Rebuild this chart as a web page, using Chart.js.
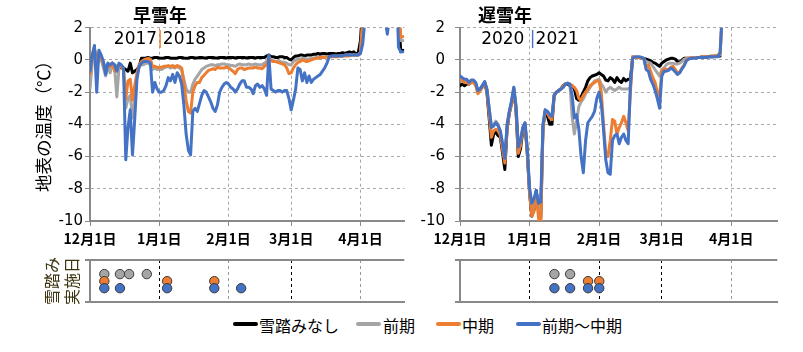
<!DOCTYPE html>
<html><head><meta charset="utf-8">
<script src="https://cdn.jsdelivr.net/npm/chart.js@4/dist/chart.umd.min.js"></script>
<style>
html,body{margin:0;padding:0;background:#fff;}
body{width:803px;height:352px;position:relative;overflow:hidden;font-family:"Noto Sans CJK JP","Noto Sans",sans-serif;color:#000;}
canvas{position:absolute;}
.t{position:absolute;white-space:nowrap;line-height:1;}
.sw{position:absolute;height:4px;width:25px;border-radius:2px;}
</style></head><body>
<canvas id="cL" width="410" height="252" style="left:0;top:0"></canvas>
<canvas id="cR" width="393" height="252" style="left:410px;top:0"></canvas>
<canvas id="dL" width="410" height="58" style="left:0;top:250px"></canvas>
<canvas id="dR" width="393" height="58" style="left:410px;top:250px"></canvas>

<div class="t" style="left:160px;top:14px;transform:translate(-50%,-50%);font-weight:bold;font-size:18px">早雪年</div>
<div class="t" style="left:505px;top:14px;transform:translate(-50%,-50%);font-weight:bold;font-size:18px">遅雪年</div>
<div class="t" style="left:160px;top:38px;transform:translate(-50%,-50%);font-family:'DejaVu Sans';font-size:17px">2017<span style="color:#ED7D31">|</span>2018</div>
<div class="t" style="left:530px;top:38px;transform:translate(-50%,-50%);font-family:'DejaVu Sans';font-size:17px">2020 <span style="color:#4472C4">|</span>2021</div>
<div class="t" style="left:43px;top:122px;transform:translate(-50%,-50%) rotate(-90deg);font-size:17.5px">地表の温度（℃）</div>
<div class="t" style="left:61px;top:281px;transform:translate(-50%,-50%) rotate(-90deg);font-size:16px;line-height:20px;text-align:center;color:#3d3510">雪踏み<br>実施日</div>

<div id="legend"></div>

<script>
// x values are days counted from 12月1日
const monthTicks = [0, 31, 62, 90, 121];
const monthLabels = ['12月1日', '1月1日', '2月1日', '3月1日', '4月1日'];
const seriesNames = ['雪踏みなし', '前期', '中期', '前期～中期'];
const seriesColors = ['#000000', '#A5A5A5', '#ED7D31', '#4472C4'];

// 早雪年 2017|2018 daily ground-surface temperature (°C), day 0 = Dec 1
const leftNone = [-0.9,0.2,0.7,-0.5,0.4,0.1,-0.2,-0.7,-0.3,-0.4,
-0.2,-0.4,-0.4,-0.4,-0.5,-0.5,-0.6,-0.7,-0.2,-0.8,
-0.7,-0.6,-0.4,0.1,0.1,0.12,0.15,0.1,0.12,0.15,
0.15,0.12,0.1,0.12,0.15,0.15,0.12,0.1,0.1,0.12,
0.15,0.15,0.12,0.1,0.12,0.15,0.15,0.12,0.12,0.15,
0.15,0.12,0.12,0.15,0.15,0.15,0.12,0.12,0.15,0.15,
0.15,0.12,0.15,0.15,0.15,0.12,0.15,0.15,0.15,0.15,
0.12,0.15,0.15,0.15,0.12,0.15,0.15,0.15,0.15,0.25,
0.3,0.2,0.2,0.15,0.15,0.2,0.2,0.15,0.15,0.05,
0.0,0.15,0.25,0.25,0.3,0.3,0.25,0.3,0.3,0.3,
0.35,0.35,0.4,0.35,0.4,0.4,0.35,0.4,0.4,0.4,
0.35,0.4,0.4,0.45,0.4,0.45,0.5,0.45,0.5,0.35,
0.45,1.2,3.5,5,5,5,5,5,5,5,
5,5,5,5,5,5,5,5,3,0.5,
0.6];
const leftEarly = [-1.8,-0.2,0.6,-0.8,0.4,0.0,-0.5,-1.0,-0.4,-0.8,
-0.3,-0.5,-2.3,-0.4,-0.4,-0.6,-3.0,-2.4,-2.2,-3.6,
-2.5,-1.0,-0.4,-0.3,-0.3,-0.2,-0.2,-0.3,-0.6,-0.5,
-0.6,-0.55,-0.6,-0.5,-0.45,-0.4,-0.5,-0.45,-0.5,-0.4,
-0.5,-0.6,-1.2,-1.8,-2.0,-2.0,-1.5,-1.2,-1.0,-0.8,
-0.6,-0.5,-0.4,-0.35,-0.3,-0.3,-0.35,-0.3,-0.3,-0.25,
-0.25,-0.3,-0.3,-0.35,-0.35,-0.4,-0.3,-0.25,-0.3,-0.3,
-0.3,-0.25,-0.3,-0.3,-0.25,-0.3,-0.3,-0.3,-0.2,-0.1,
0.2,0.0,-0.05,-0.1,-0.1,-0.1,-0.15,-0.15,-0.2,-0.3,
-0.3,-0.1,0.0,0.05,0.05,0.1,0.1,0.05,0.05,0.1,
0.1,0.15,0.15,0.15,0.2,0.2,0.2,0.2,0.2,0.25,
0.25,0.25,0.25,0.25,0.3,0.3,0.3,0.3,0.3,0.3,
0.3,0.5,2.5,5,5,5,5,5,5,5,
5,5,5,5,5,5,5,5,4,1.2,
1.2];
const leftMid = [-0.9,0.2,0.7,-0.6,0.5,0.1,-0.2,-0.7,-0.3,-0.4,
-0.2,-0.7,-0.4,-0.3,-0.4,-0.6,-2.4,-1.3,-1.2,-2.5,
-1.6,-0.8,-0.3,-0.1,0.0,0.05,0.1,0.05,-0.4,-0.4,
-0.45,-0.5,-0.45,-0.4,-0.4,-0.35,-0.4,-0.35,-0.45,-0.35,
-0.4,-0.5,-1.5,-2.5,-3.2,-3.3,-2.0,-1.6,-1.4,-1.4,
-1.1,-0.95,-0.8,-0.65,-0.6,-0.55,-0.6,-0.45,-0.5,-0.5,
-0.5,-0.45,-0.5,-0.6,-0.7,-0.85,-0.6,-0.5,-0.5,-0.6,
-0.55,-0.5,-0.5,-0.5,-0.45,-0.5,-0.5,-0.55,-0.4,-0.3,
0.1,-0.05,-0.1,-0.1,-0.15,-0.2,-0.25,-0.3,-0.5,-0.85,
-0.8,-0.5,-0.3,-0.15,-0.1,0.0,-0.05,-0.1,-0.05,0.0,
0.05,0.1,0.1,0.15,0.15,0.15,0.2,0.2,0.2,0.2,
0.2,0.2,0.25,0.25,0.25,0.25,0.25,0.3,0.3,0.3,
0.3,0.4,2.3,5,5,5,5,5,5,5,
5,5,5,5,5,5,5,5,4,1.4,
1.45];
const leftBoth = [-0.7,0.3,0.9,-2.0,0.6,0.3,-0.1,-0.9,-0.2,-0.3,
-0.2,-0.3,-0.7,-0.2,-0.3,-0.5,-6.2,-4.2,-3.1,-5.9,
-3.7,-1.2,-0.4,-0.2,-0.1,-0.1,-0.1,-0.2,-2.0,-1.4,
-1.8,-2.0,-2.0,-1.9,-1.6,-1.1,-1.3,-0.9,-1.4,-0.8,
-1.0,-1.5,-2.8,-4.6,-5.6,-5.9,-3.2,-3.0,-3.2,-2.7,
-2.2,-1.9,-2.0,-2.3,-2.6,-3.0,-3.2,-2.8,-2.0,-1.7,
-1.5,-1.4,-1.5,-1.7,-1.8,-2.0,-1.8,-1.5,-1.3,-1.3,
-1.7,-1.7,-1.8,-2.1,-1.6,-1.5,-1.7,-1.6,-1.8,-2.2,
0.3,-1.8,-1.9,-2.0,-1.9,-1.9,-2.0,-1.9,-1.9,-2.4,
-3.1,-2.5,-1.8,-0.5,-0.6,-1.3,-0.8,-1.4,-1.0,-1.4,
-1.2,-1.1,-1.0,-0.9,-0.7,-0.5,-0.2,0.2,0.25,0.25,
0.25,0.25,0.25,0.25,0.3,0.3,0.3,0.3,0.3,0.3,
0.3,0.4,1.0,2.5,5,5,5,5,5,5,
5,5,2.6,1.6,2.6,5,5,5,0.8,0.5,
0.5];

// 遅雪年 2020|2021, day 0 = Dec 1
const rightNone = [-1.6,-1.5,-1.6,-1.5,-1.5,-1.4,-1.35,-1.5,-2.0,-1.8,
-1.6,-1.4,-2.0,-3.6,-5.3,-4.6,-4.5,-4.7,-4.8,-5.8,
-6.8,-4.3,-3.3,-2.7,-1.8,-3.2,-6.0,-5.5,-4.4,-4.0,
-5.8,-8.2,-9.7,-9.3,-8.1,-9.3,-9.8,-4.2,-3.2,-3.5,
-4.0,-4.0,-2.2,-2.0,-1.9,-1.8,-1.6,-1.5,-1.5,-1.6,
-1.6,-1.8,-2.4,-2.5,-2.3,-2.0,-1.7,-1.3,-1.1,-1.0,
-0.95,-0.9,-0.8,-0.9,-1.0,-1.25,-1.3,-1.1,-1.2,-1.4,
-1.1,-1.3,-1.4,-1.15,-1.3,-1.2,-1.2,0.15,0.15,0.15,
0.15,0.1,0.1,0.05,0.0,-0.05,-0.15,-0.2,-0.3,-0.4,
-0.2,-0.1,0.0,0.05,0.1,0.1,0.05,-0.1,-0.15,0.0,
0.1,0.1,0.1,0.1,0.15,0.15,0.15,0.15,0.2,0.2,
0.2,0.2,0.2,0.2,0.25,0.25,0.25,null,null];
const rightEarly = [-1.0,-1.15,-1.25,-1.25,-1.45,-1.3,-1.3,-1.45,-2.0,-1.8,
-1.6,-1.35,-1.8,-3.0,-4.1,-4.0,-3.8,-4.0,-4.5,-5.3,
-6.2,-4.1,-3.2,-2.6,-1.7,-2.9,-5.4,-5.0,-4.2,-3.9,
-5.6,-8.0,-9.2,-9.0,-8.2,-9.3,-9.4,-4.1,-3.1,-3.2,
-3.4,-3.5,-2.2,-2.0,-1.9,-1.8,-1.7,-1.5,-1.45,-1.5,
-3.5,-4.6,-3.8,-2.9,-2.6,-2.4,-2.1,-1.9,-1.7,-1.5,
-1.3,-1.25,-1.2,-1.5,-1.7,-2.0,-1.8,-1.7,-1.8,-1.9,
-1.8,-1.7,-1.8,-1.8,-1.8,-1.8,-1.7,0.2,0.15,0.15,
0.15,0.1,0.05,-0.1,-0.15,-0.2,-0.4,-0.6,-0.8,-1.0,
-0.6,-0.5,-0.3,-0.2,-0.2,-0.2,-0.25,-0.25,-0.2,-0.1,
0.05,0.1,0.1,0.1,0.15,0.15,0.15,0.15,0.2,0.2,
0.2,0.2,0.25,0.25,0.25,0.3,0.3,3.0,6];
const rightMid = [-1.2,-1.3,-1.4,-1.4,-1.5,-1.4,-1.4,-1.6,-2.1,-1.9,
-1.7,-1.4,-1.9,-3.4,-4.8,-4.4,-4.3,-4.4,-4.7,-5.6,
-6.4,-4.2,-3.3,-2.7,-1.8,-3.1,-5.8,-5.3,-4.3,-4.0,
-5.7,-8.2,-9.7,-9.4,-8.3,-9.8,-10.5,-4.2,-3.2,-3.3,
-3.6,-3.7,-2.2,-2.0,-1.9,-1.8,-1.6,-1.5,-1.45,-1.5,
-1.6,-1.7,-1.9,-2.4,-2.5,-2.2,-2.0,-1.8,-1.6,-1.5,
-1.4,-1.3,-1.3,-2.0,-4.0,-5.8,-6.0,-5.0,-3.7,-3.8,
-4.6,-4.2,-3.9,-3.5,-3.9,-4.4,-2.0,0.2,0.15,0.15,
0.15,0.1,0.05,-0.5,-0.3,-0.7,-1.1,-1.4,-2.0,-2.3,
-0.7,-0.55,-0.6,-0.6,-0.45,-0.4,-0.6,-0.8,-0.75,-0.5,
-0.3,0.0,0.1,0.1,0.15,0.15,0.15,0.15,0.2,0.2,
0.2,0.2,0.25,0.25,0.25,0.3,0.4,3.0,6];
const rightBoth = [-1.0,-1.1,-1.2,-1.2,-1.4,-1.25,-1.25,-1.4,-1.9,-1.8,
-1.6,-1.35,-1.8,-3.0,-4.2,-4.1,-3.9,-4.1,-4.4,-5.2,
-6.1,-4.0,-3.2,-2.5,-1.7,-2.9,-5.4,-5.0,-4.2,-3.9,
-5.5,-7.9,-8.9,-8.6,-8.1,-8.9,-8.8,-4.0,-3.1,-3.2,
-3.4,-3.5,-2.2,-2.0,-1.9,-1.8,-1.7,-1.5,-1.45,-1.5,
-2.2,-3.6,-3.4,-4.3,-6.0,-7.0,-5.0,-3.9,-3.7,-3.5,
-3.2,-2.4,-2.0,-2.7,-4.3,-6.2,-7.0,-7.1,-5.0,-4.7,
-4.6,-5.2,-4.8,-4.6,-5.0,-5.2,-1.5,0.1,0.2,0.2,
0.2,0.15,0.1,-0.6,-0.7,-1.2,-1.5,-1.9,-2.4,-3.0,
-1.0,-0.7,-0.7,-0.65,-0.5,-0.6,-0.75,-0.9,-0.8,-0.55,
-0.35,-0.05,0.05,0.1,0.1,0.1,0.15,0.15,0.15,0.15,
0.15,0.2,0.2,0.2,0.2,0.2,0.45,3.0,6];

// 雪踏み実施日 (days from Dec 1)
const leftDaysEarly = [6.4, 13.4, 17.5, 25.4];
const leftDaysMid = [6.4, 34.5, 55.6];
const leftDaysBoth = [6.4, 13.4, 34.5, 55.6, 67.6];
const rightDaysEarly = [42.1, 49.1];
const rightDaysMid = [57.1, 62.1];
const rightDaysBoth = [42.1, 49.1, 57.1, 62.1];
const dotRows = [4, 3, 2]; // 前期, 中期, 前期～中期

const AXIS = '#898989', GRID = '#a8a8a8';
const CJK = '"Noto Sans CJK JP"';

function monthTicksHook(s) { s.ticks = monthTicks.map(v => ({ value: v })); }

function lineChart(id, xmax, yPad, padRight, seriesVals) {
  new Chart(document.getElementById(id), {
    type: 'line',
    data: {
      datasets: seriesVals.map((vals, k) => ({
        label: seriesNames[k],
        data: vals.map((v, i) => ({ x: i, y: v })),
        borderColor: seriesColors[k],
        backgroundColor: seriesColors[k],
        borderWidth: 3, pointRadius: 0, tension: 0,
        borderJoinStyle: 'round', borderCapStyle: 'round',
        order: 4 - k, spanGaps: false
      }))
    },
    options: {
      responsive: false, animation: false, events: [],
      plugins: { legend: { display: false }, tooltip: { enabled: false } },
      layout: { padding: { top: 27.7, right: padRight, left: 0, bottom: 0 } },
      scales: {
        x: {
          type: 'linear', min: 0, max: xmax,
          afterBuildTicks: monthTicksHook,
          afterFit: s => { s.height = 31; },
          ticks: {
            autoSkip: false, maxRotation: 0, padding: 4, color: '#000',
            font: { family: CJK, size: 14, weight: 'bold' },
            callback: v => monthLabels[monthTicks.indexOf(v)]
          },
          grid: { color: GRID, lineWidth: 1, tickLength: 5, tickColor: AXIS, tickWidth: 1, tickBorderDash: [] },
          border: { display: true, color: AXIS, width: 2, dash: [3, 3] }
        },
        y: {
          min: -10, max: 2,
          afterFit: s => { s.width = yPad.width; },
          ticks: {
            stepSize: 2, padding: yPad.pad, color: '#000',
            font: { family: 'DejaVu Sans', size: 15 }
          },
          grid: { color: GRID, lineWidth: 1, tickLength: 5, tickColor: AXIS, tickWidth: 1, tickBorderDash: [] },
          border: { display: true, color: AXIS, width: 2, dash: [3, 3] }
        }
      }
    }
  });
}

function dotChart(id, xmax, padRight, yW, dayLists, vColors) {
  const cols = ['#A5A5A5', '#ED7D31', '#4472C4'];
  new Chart(document.getElementById(id), {
    type: 'scatter',
    data: {
      datasets: dayLists.map((days, k) => ({
        data: days.map(d => ({ x: d, y: dotRows[k] })),
        backgroundColor: cols[k], borderColor: '#3a3a3a', borderWidth: 1,
        pointRadius: 4.7, order: 3 - k
      }))
    },
    options: {
      responsive: false, animation: false, events: [],
      plugins: { legend: { display: false }, tooltip: { enabled: false } },
      layout: { padding: { top: 10, right: padRight, left: 0, bottom: 0 } },
      scales: {
        x: {
          type: 'linear', min: 0, max: xmax,
          afterBuildTicks: monthTicksHook,
          afterFit: s => { s.height = 5.3; },
          ticks: { display: false },
          grid: {
            color: c => (c.tick && c.tick.value === 0) ? 'rgba(0,0,0,0)' : vColors[monthTicks.indexOf(c.tick.value)],
            lineWidth: 1, drawTicks: false, tickLength: 0
          },
          border: { display: true, color: AXIS, width: 2, dash: [3, 3] }
        },
        y: {
          min: 0, max: 6,
          afterBuildTicks: s => { s.ticks = [{ value: 0 }, { value: 6 }]; },
          afterFit: s => { s.width = yW; },
          ticks: { display: false },
          grid: { color: AXIS, lineWidth: 2, tickLength: 5, tickColor: AXIS, tickBorderDash: [] },
          border: { display: true, color: AXIS, width: 2 }
        }
      }
    }
  });
}

lineChart('cL', 140.6, { width: 90, pad: 2 }, 5.7, [leftNone, leftEarly, leftMid, leftBoth]);
lineChart('cR', 141.5, { width: 50, pad: 10 }, 25.7, [rightNone, rightEarly, rightMid, rightBoth]);
dotChart('dL', 140.6, 5.7, 90, [leftDaysEarly, leftDaysMid, leftDaysBoth], ['#000', '#000', '#999', '#000', '#999']);
dotChart('dR', 141.5, 25.7, 50, [rightDaysEarly, rightDaysMid, rightDaysBoth], ['#000', '#000', '#000', '#000', '#999']);

// legend (HTML)
const legendX = [[233, 259], [356, 383], [436, 462], [516, 542]];
const lg = document.getElementById('legend');
seriesNames.forEach((n, k) => {
  const sw = document.createElement('div');
  sw.className = 'sw';
  sw.style.left = legendX[k][0] + 'px'; sw.style.top = '322px';
  sw.style.background = seriesColors[k];
  lg.appendChild(sw);
  const t = document.createElement('div');
  t.className = 't';
  t.style.left = legendX[k][1] + 'px'; t.style.top = '325px';
  t.style.transform = 'translateY(-50%)'; t.style.fontSize = '16px';
  t.textContent = n;
  lg.appendChild(t);
});
</script>
</body></html>
